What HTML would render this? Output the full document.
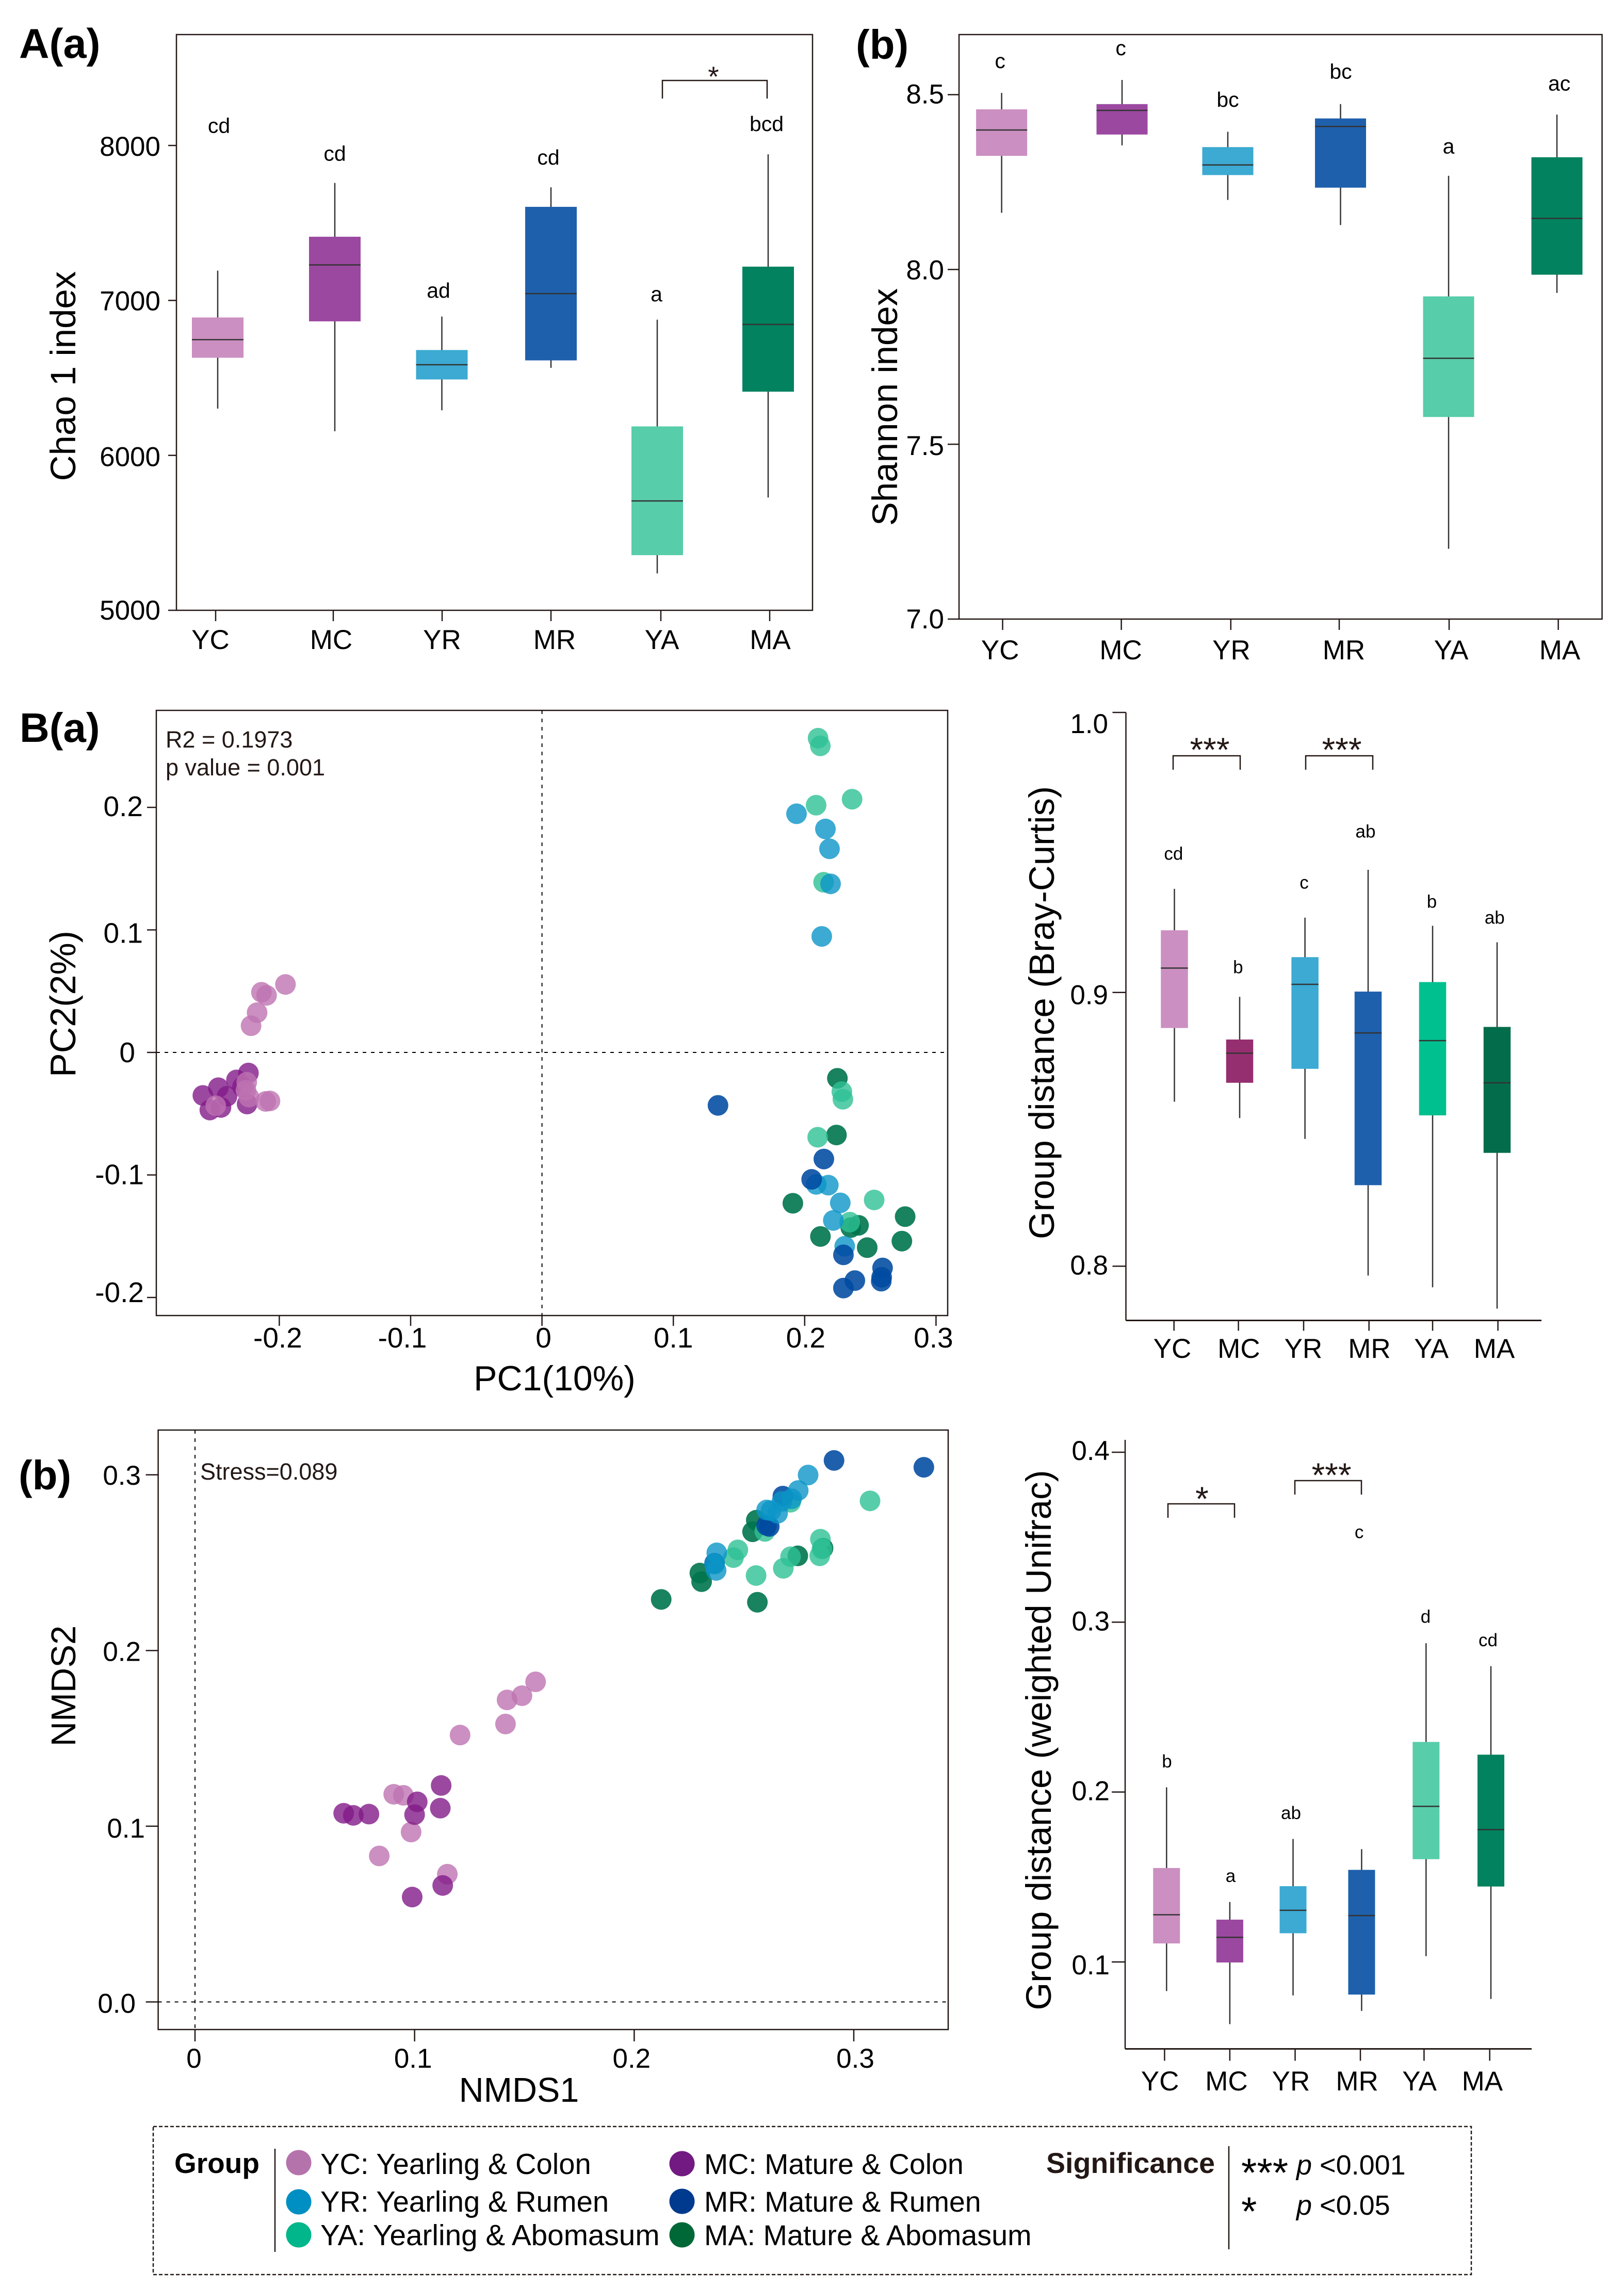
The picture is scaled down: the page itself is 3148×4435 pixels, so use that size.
<!DOCTYPE html>
<html lang="en">
<head>
<meta charset="utf-8">
<title>Microbial diversity figure</title>
<style>
html,body{margin:0;padding:0;background:#fff;}
svg{display:block;font-family:"Liberation Sans",Arial,sans-serif;}
</style>
</head>
<body>
<svg id="figure" xmlns="http://www.w3.org/2000/svg" width="3148" height="4435" viewBox="0 0 3148 4435">
<rect x="0" y="0" width="3148" height="4435" fill="#ffffff"/>

<!-- panel letters -->
<text x="37" y="112" font-size="81" font-weight="bold">A(a)</text>
<text x="1659" y="114" font-size="80" font-weight="bold">(b)</text>
<text x="38" y="1438" font-size="80" font-weight="bold">B(a)</text>
<text x="36" y="2887" font-size="80" font-weight="bold">(b)</text>

<!-- axis titles -->
<text transform="translate(146,729) rotate(-90)" font-size="69" text-anchor="middle">Chao 1 index</text>
<text transform="translate(1739,789) rotate(-90)" font-size="69" text-anchor="middle">Shannon index</text>
<text transform="translate(146,1946) rotate(-90)" font-size="70" text-anchor="middle">PC2(2%)</text>
<text x="1075" y="2695" font-size="68" text-anchor="middle">PC1(10%)</text>
<text transform="translate(2043,1963) rotate(-90)" font-size="69" text-anchor="middle">Group distance (Bray-Curtis)</text>
<text transform="translate(146,3268) rotate(-90)" font-size="67" text-anchor="middle">NMDS2</text>
<text x="1006" y="4074" font-size="66.5" text-anchor="middle">NMDS1</text>
<text transform="translate(2037,3373) rotate(-90)" font-size="69" text-anchor="middle">Group distance (weighted Unifrac)</text>

<!-- annotations -->
<text x="321" y="1449" font-size="45" fill="#231815">R2 = 0.1973</text>
<text x="321" y="1503" font-size="45" fill="#231815">p value = 0.001</text>
<text x="388" y="2868" font-size="45" fill="#231815">Stress=0.089</text>

<!-- significance brackets -->
<g fill="none" stroke="#231815" stroke-width="2.5">
<path d="M1284 191V156H1487V191"/>
<path d="M2274 1492V1465H2404V1492"/>
<path d="M2531 1492V1465H2661V1492"/>
<path d="M2264 2942V2915H2393V2942"/>
<path d="M2510 2897V2870H2639V2897"/>
</g>
<g fill="#231815" text-anchor="middle">
<text x="1383" y="167" font-size="55">*</text>
<text x="2345" y="1476" font-size="66">***</text>
<text x="2601" y="1476" font-size="66">***</text>
<text x="2330" y="2928" font-size="66">*</text>
<text x="2581" y="2882" font-size="66">***</text>
</g>

<!-- legend -->
<g>
<rect x="297" y="4122" width="2555" height="287" fill="none" stroke="#231815" stroke-width="2.5" stroke-dasharray="7 4"/>
<text x="338" y="4212" font-size="55" font-weight="bold">Group</text>
<path d="M533 4165V4365" stroke="#231815" stroke-width="2.5"/>
<circle cx="579" cy="4192" r="24.5" fill="#B573AC"/>
<circle cx="579" cy="4268" r="24.5" fill="#008FC2"/>
<circle cx="579" cy="4332" r="24.5" fill="#00B68A"/>
<circle cx="1322" cy="4194" r="24.5" fill="#721A81"/>
<circle cx="1322" cy="4267" r="24.5" fill="#003A8E"/>
<circle cx="1322" cy="4332" r="24.5" fill="#006837"/>
<text x="621" y="4214" font-size="56.2">YC: Yearling &amp; Colon</text>
<text x="621" y="4287" font-size="56.2">YR: Yearling &amp; Rumen</text>
<text x="621" y="4352" font-size="56.7">YA: Yearling &amp; Abomasum</text>
<text x="1365" y="4214" font-size="55.5">MC: Mature &amp; Colon</text>
<text x="1365" y="4287" font-size="55.5">MR: Mature &amp; Rumen</text>
<text x="1365" y="4352" font-size="55.7">MA: Mature &amp; Abomasum</text>
<text x="2028" y="4212" font-size="55.5" font-weight="bold" fill="#231815">Significance</text>
<path d="M2382 4160V4360" stroke="#231815" stroke-width="2.5"/>
<text x="2406" y="4238" font-size="78">***</text>
<text x="2513" y="4215" font-size="54"><tspan font-style="italic">p</tspan> &lt;0.001</text>
<text x="2406" y="4313" font-size="78">*</text>
<text x="2513" y="4293" font-size="54"><tspan font-style="italic">p</tspan> &lt;0.05</text>
</g>

<g id="charts"></g>
</svg>

<script>
// ---------- shared categories and colours ----------
const categories = ['YC','MC','YR','MR','YA','MA'];

// ---------- Chao 1 ----------
const chaoHigh = [7192,7758,6896,7730,6876,7943];
const chaoQ3 = [6890,7411,6680,7604,6187,7218];
const chaoMedian = [6747,7229,6585,7044,5706,6845];
const chaoQ1 = [6630,6865,6490,6613,5356,6411];
const chaoLow = [6302,6156,6291,6565,5238,5728];
const chaoLetters = ['cd','cd','ad','cd','a','bcd'];
const chaoLetterAt = [8082,7902,7018,7877,6995,8093];
const chaoTicks = [5000,6000,7000,8000];
const chaoTickLabels = ['5000','6000','7000','8000'];

// ---------- Shannon ----------
const shannonHigh = [8.505,8.542,8.394,8.473,8.268,8.443];
const shannonQ3 = [8.458,8.473,8.350,8.432,7.923,8.321];
const shannonMedian = [8.399,8.455,8.299,8.409,7.746,8.146];
const shannonQ1 = [8.325,8.386,8.270,8.234,7.578,7.985];
const shannonLow = [8.162,8.355,8.199,8.127,7.201,7.933];
const shannonLetters = ['c','c','bc','bc','a','ac'];
const shannonLetterAt = [8.576,8.613,8.465,8.546,8.332,8.512];
const shannonTicks = [7.0,7.5,8.0,8.5];
const shannonTickLabels = ['7.0','7.5','8.0','8.5'];

// ---------- Bray-Curtis group distance ----------
const brayHigh = [0.9370,0.8984,0.9267,0.9438,0.9238,0.9179];
const brayQ3 = [0.9222,0.8828,0.9126,0.9003,0.9037,0.8874];
const brayMedian = [0.9087,0.8778,0.9029,0.8852,0.8824,0.8670];
const brayQ1 = [0.8870,0.8670,0.8721,0.8296,0.8551,0.8414];
const brayLow = [0.8601,0.8541,0.8465,0.7966,0.7923,0.7845];
const brayLetters = ['cd','b','c','ab','b','ab'];
const brayLetterAt = [0.9474,0.9069,0.9371,0.9553,0.9303,0.9245];
const brayTicks = [0.8,0.9,1.0];
const brayTickLabels = ['0.8','0.9','1.0'];

// ---------- weighted Unifrac group distance ----------
const unifracHigh = [0.2028,0.1353,0.1724,0.1664,0.2876,0.2741];
const unifracQ3 = [0.1553,0.1249,0.1446,0.1542,0.2295,0.2220];
const unifracMedian = [0.1278,0.1145,0.1304,0.1273,0.1916,0.1779];
const unifracQ1 = [0.1109,0.0997,0.1169,0.0808,0.1605,0.1444];
const unifracLow = [0.0829,0.0634,0.0803,0.0712,0.1034,0.0782];
const unifracLetters = ['b','a','ab','c','d','cd'];
const unifracLetterAt = [0.2145,0.1470,0.1841,0.3494,0.2996,0.2858];
const unifracTicks = [0.1,0.2,0.3,0.4];
const unifracTickLabels = ['0.1','0.2','0.3','0.4'];

// ---------- PCoA scatter ----------
const pcoaYC = [[-0.1953,0.0555],[-0.2136,0.0491],[-0.2097,0.0466],[-0.2169,0.0325],[-0.2215,0.0218],[-0.2248,-0.0243],[-0.2254,-0.0309],[-0.2231,-0.0365],[-0.2104,-0.0400],[-0.2071,-0.0396],[-0.2484,-0.0435]];
const pcoaMC = [[-0.2235,-0.0168],[-0.2326,-0.0224],[-0.2280,-0.0281],[-0.2464,-0.0288],[-0.2582,-0.0351],[-0.2398,-0.0358],[-0.2529,-0.0470],[-0.2444,-0.0449],[-0.2245,-0.0421]];
const pcoaYR = [[0.1938,0.1948],[0.2158,0.1824],[0.2189,0.1662],[0.2197,0.1376],[0.2130,0.0947],[0.2088,-0.1077],[0.2180,-0.1083],[0.2271,-0.1228],[0.2218,-0.1371],[0.2305,-0.1582]];
const pcoaMR = [[0.1340,-0.0432],[0.2146,-0.0870],[0.2053,-0.1036],[0.2295,-0.1652],[0.2593,-0.1759],[0.2586,-0.1835],[0.2583,-0.1867],[0.2382,-0.1862],[0.2295,-0.1923]];
const pcoaYA = [[0.2102,0.2565],[0.2119,0.2502],[0.2087,0.2018],[0.2361,0.2067],[0.2144,0.1389],[0.2283,-0.0320],[0.2291,-0.0382],[0.2099,-0.0692],[0.2529,-0.1204],[0.2343,-0.1385]];
const pcoaMA = [[0.2249,-0.0211],[0.2242,-0.0674],[0.1910,-0.1231],[0.2765,-0.1340],[0.2410,-0.1411],[0.2351,-0.1429],[0.2120,-0.1502],[0.2740,-0.1540],[0.2476,-0.1593]];
const pcoaXTicks = [-0.2,-0.1,0,0.1,0.2,0.3];
const pcoaXTickLabels = ['-0.2','-0.1','0','0.1','0.2','0.3'];
const pcoaYTicks = [-0.2,-0.1,0,0.1,0.2];
const pcoaYTickLabels = ['-0.2','-0.1','0','0.1','0.2'];

// ---------- NMDS scatter ----------
const nmdsYC = [[0.1551,0.1822],[0.1489,0.1743],[0.1421,0.1719],[0.1414,0.1582],[0.1207,0.1519],[0.0905,0.1182],[0.0949,0.1176],[0.0984,0.0967],[0.0839,0.0831],[0.1149,0.0727]];
const nmdsMC = [[0.1121,0.1232],[0.1012,0.1139],[0.1000,0.1066],[0.1117,0.1103],[0.0677,0.1074],[0.0721,0.1062],[0.0792,0.1069],[0.1128,0.0663],[0.0989,0.0597]];
const nmdsYR = [[0.2792,0.2999],[0.2747,0.2911],[0.2717,0.2864],[0.2673,0.2849],[0.2603,0.2800],[0.2623,0.2796],[0.2653,0.2781],[0.2376,0.2556],[0.2366,0.2492],[0.2373,0.2456]];
const nmdsMR = [[0.2910,0.3082],[0.3319,0.3043],[0.2677,0.2879],[0.2603,0.2712],[0.2615,0.2706],[0.2366,0.2497]];
const nmdsYA = [[0.3074,0.2852],[0.2712,0.2844],[0.2595,0.2678],[0.2848,0.2634],[0.2855,0.2578],[0.2845,0.2539],[0.2712,0.2534],[0.2679,0.2468],[0.2472,0.2573],[0.2452,0.2529],[0.2555,0.2427]];
const nmdsMA = [[0.2556,0.2742],[0.2539,0.2676],[0.2860,0.2583],[0.2745,0.2539],[0.2299,0.2441],[0.2307,0.2392],[0.2123,0.2291],[0.2561,0.2275]];
const nmdsXTicks = [0,0.1,0.2,0.3];
const nmdsXTickLabels = ['0','0.1','0.2','0.3'];
const nmdsYTicks = [0,0.1,0.2,0.3];
const nmdsYTickLabels = ['0.0','0.1','0.2','0.3'];

// ---------- drawing helpers ----------
const SVGNS = 'http://www.w3.org/2000/svg';
const root = document.getElementById('charts');
function linear(d0, d1, r0, r1) { return function (v) { return r0 + (v - d0) * (r1 - r0) / (d1 - d0); }; }
function mk(tag, attrs, name, parent) {
  const el = document.createElementNS(SVGNS, tag);
  for (const k in attrs) el.setAttribute(k, attrs[k]);
  
  
  (parent || root).appendChild(el);
  return el;
}
function line(x1, y1, x2, y2, stroke, w, name, parent, dash) {
  const a = { x1: x1, y1: y1, x2: x2, y2: y2, stroke: stroke, 'stroke-width': w };
  if (dash) a['stroke-dasharray'] = dash;
  return mk('line', a, name, parent);
}
function label(x, y, str, size, anchor, name, parent) {
  const t = mk('text', { x: x, y: y, 'font-size': size, 'text-anchor': anchor }, name, parent);
  t.textContent = str;
  return t;
}

const AX = '#231815';
const boxColours = { YC:'#CB8FC1', MC:'#9B48A0', YR:'#3CAAD2', MR:'#1E60AC', YA:'#58CDAA', MA:'#02825F' };
const dotColours = { YC:'#BE73B1', MC:'#821A88', YR:'#0B95C7', MR:'#004AA1', YA:'#2EC095', MA:'#00744D' };
const dotOpacity = { YC:0.8, MC:0.8, YR:0.8, MR:0.88, YA:0.8, MA:0.9 };
const DOT_R = 20;

function boxPanel(p) {
  const g = mk('g', {}, p.id + '-chart');
  // frame or L axes
  if (p.frame) {
    mk('rect', { x: p.frame[0], y: p.frame[1], width: p.frame[2] - p.frame[0], height: p.frame[3] - p.frame[1], fill: 'none', stroke: AX, 'stroke-width': 2.5 }, p.id + '-plot-frame', g);
  } else {
    line(p.axis.x, p.axis.top, p.axis.x, p.axis.bottom, AX, 2.5, p.id + '-y-axis-line', g);
    line(p.axis.x, p.axis.bottom, p.axis.right, p.axis.bottom, AX, 3, p.id + '-x-axis-line', g);
  }
  // y ticks
  p.ticks.forEach(function (t, i) {
    const y = p.y(t);
    line(p.yAxisX - p.tickLen, y, p.yAxisX, y, AX, 2.5, p.id + '-y-tick-' + p.tickLabels[i], g);
    label(p.yLabelRight, y + p.yLabelDy[i], p.tickLabels[i], p.tickFont, 'end', p.id + '-y-tick-label-' + p.tickLabels[i], g);
  });
  // categories
  categories.forEach(function (c, i) {
    const cx = p.boxX[i];
    line(p.tickX[i], p.xAxisY, p.tickX[i], p.xAxisY + p.xTickLen, AX, 2.5, p.id + '-x-tick-' + c, g);
    label(p.labelX[i], p.xLabelY, c, 53, 'middle', p.id + '-x-label-' + c, g);
    line(cx, p.y(p.high[i]), cx, p.y(p.low[i]), '#333333', 2.5, p.id + '-whisker-' + c, g);
    const colour = (p.colours && p.colours[c]) || boxColours[c];
    const top = p.y(p.q3[i]), bot = p.y(p.q1[i]);
    mk('rect', { x: cx - p.boxW / 2, y: top, width: p.boxW, height: bot - top, fill: colour }, p.id + '-box-' + c, g);
    const my = p.y(p.median[i]);
    line(cx - p.boxW / 2, my, cx + p.boxW / 2, my, '#333333', 2.5, p.id + '-median-' + c, g);
    label(p.letterX[i], p.y(p.letterAt[i]), p.letters[i], p.letterFont, 'middle', p.id + '-letter-' + c, g);
  });
}

function scatterPanel(p) {
  const g = mk('g', {}, p.id + '-chart');
  mk('rect', { x: p.frame[0], y: p.frame[1], width: p.frame[2] - p.frame[0], height: p.frame[3] - p.frame[1], fill: 'none', stroke: AX, 'stroke-width': 2.5 }, p.id + '-plot-frame', g);
  line(p.x(0), p.frame[1], p.x(0), p.frame[3], '#000000', 2, p.id + '-zero-line-vertical', g, '7 9');
  line(p.frame[0], p.y(0), p.frame[2], p.y(0), '#000000', 2, p.id + '-zero-line-horizontal', g, '7 9');
  p.xTicks.forEach(function (t, i) {
    const x = p.x(t);
    line(x, p.frame[3], x, p.frame[3] + p.xTickLen, AX, 2.5, p.id + '-x-tick-' + p.xTickLabels[i], g);
    label(x + p.xLabelDx[i], p.xLabelY, p.xTickLabels[i], p.tickFont, 'middle', p.id + '-x-tick-label-' + p.xTickLabels[i], g);
  });
  p.yTicks.forEach(function (t, i) {
    const y = p.y(t);
    line(p.frame[0] - p.yTickLen, y, p.frame[0], y, AX, 2.5, p.id + '-y-tick-' + p.yTickLabels[i], g);
    label(p.yLabelRight[i], y + p.yLabelDy[i], p.yTickLabels[i], p.tickFont, 'end', p.id + '-y-tick-label-' + p.yTickLabels[i], g);
  });
  p.series.forEach(function (s) {
    s.points.forEach(function (pt, i) {
      mk('circle', { cx: p.x(pt[0]), cy: p.y(pt[1]), r: DOT_R, fill: dotColours[s.key], 'fill-opacity': dotOpacity[s.key] }, p.id + '-point-' + s.key + '-' + (i + 1), g);
    });
  });
}

// ---------- panels ----------
boxPanel({
  id: 'chao', frame: [342, 67, 1575, 1183], yAxisX: 342, xAxisY: 1183, tickLen: 16, xTickLen: 21,
  y: linear(5000, 8000, 1183, 282), ticks: chaoTicks, tickLabels: chaoTickLabels,
  yLabelRight: 311, yLabelDy: [18, 21, 19, 20], tickFont: 53, xLabelY: 1258, letterFont: 41,
  boxX: [422, 649, 856.5, 1068, 1274, 1489], boxW: 100,
  tickX: [418, 646, 857, 1068, 1281, 1492], labelX: [408, 642, 857, 1075, 1283, 1493],
  letterX: [424.5, 649, 850, 1063, 1272.5, 1486],
  high: chaoHigh, q3: chaoQ3, median: chaoMedian, q1: chaoQ1, low: chaoLow, letters: chaoLetters, letterAt: chaoLetterAt
});

boxPanel({
  id: 'shannon', frame: [1859, 67, 3105.5, 1200], yAxisX: 1859, xAxisY: 1200, tickLen: 22, xTickLen: 21,
  y: linear(7, 8.5, 1200, 183.5), ticks: shannonTicks, tickLabels: shannonTickLabels,
  yLabelRight: 1830, yLabelDy: [18, 21, 19, 17], tickFont: 53, xLabelY: 1278, letterFont: 41,
  boxX: [1941.6, 2175, 2380, 2598.5, 2808, 3018], boxW: 99,
  tickX: [1943.5, 2173.6, 2385.8, 2596, 2809, 3020.6], labelX: [1938.6, 2172.6, 2387, 2605, 2813, 3023.5],
  letterX: [1938.6, 2172.6, 2380, 2599, 2808, 3022.6],
  high: shannonHigh, q3: shannonQ3, median: shannonMedian, q1: shannonQ1, low: shannonLow, letters: shannonLetters, letterAt: shannonLetterAt
});

const brayLower = linear(0.8, 0.9, 2454.4, 1923.7);
const brayUpper = linear(0.9, 1.0, 1923.7, 1381);
boxPanel({
  id: 'bray', axis: { x: 2182.5, top: 1381, bottom: 2559.5, right: 2988 }, yAxisX: 2182.5, xAxisY: 2559.5, tickLen: 26, xTickLen: 20,
  y: function (v) { return v <= 0.9 ? brayLower(v) : brayUpper(v); }, ticks: brayTicks, tickLabels: brayTickLabels,
  yLabelRight: 2148, yLabelDy: [16, 23, 40], tickFont: 53, xLabelY: 2632, letterFont: 35,
  boxX: [2276.5, 2403, 2529.6, 2652, 2777, 2902], boxW: 52.5,
  tickX: [2275.7, 2400.6, 2527, 2653.7, 2777, 2903.6], labelX: [2272.5, 2401.4, 2526.4, 2654.5, 2774.7, 2896.5],
  letterX: [2274.9, 2399.8, 2528, 2647, 2775.5, 2897.3],
  colours: { MC: '#952F70', YA: '#00C08F', MA: '#036C4B' },
  high: brayHigh, q3: brayQ3, median: brayMedian, q1: brayQ1, low: brayLow, letters: brayLetters, letterAt: brayLetterAt
});

boxPanel({
  id: 'unifrac', axis: { x: 2181, top: 2791, bottom: 3971.5, right: 2969 }, yAxisX: 2181, xAxisY: 3971.5, tickLen: 26, xTickLen: 23,
  y: linear(0.1, 0.4, 3803, 2815), ticks: unifracTicks, tickLabels: unifracTickLabels,
  yLabelRight: 2151, yLabelDy: [24, 16, 16, 15], tickFont: 53, xLabelY: 4052, letterFont: 35,
  boxX: [2261.3, 2383.9, 2506.5, 2639.4, 2764.3, 2890], boxW: 52,
  tickX: [2257.4, 2383.9, 2510.5, 2637, 2760.4, 2887.7], labelX: [2248.6, 2377.5, 2502.5, 2630.6, 2751.6, 2873.4],
  letterX: [2262, 2385.5, 2502.5, 2634.6, 2763.5, 2884.5],
  high: unifracHigh, q3: unifracQ3, median: unifracMedian, q1: unifracQ1, low: unifracLow, letters: unifracLetters, letterAt: unifracLetterAt
});

scatterPanel({
  id: 'pcoa', frame: [303, 1377, 1837, 2550], x: linear(0, 0.3, 1050.6, 1814.4), y: linear(0, 0.2, 2040, 1565),
  xTicks: pcoaXTicks, xTickLabels: pcoaXTickLabels, yTicks: pcoaYTicks, yTickLabels: pcoaYTickLabels,
  xTickLen: 20, yTickLen: 18, xLabelY: 2612, tickFont: 55,
  xLabelDx: [-3, -16, 3, 0, 2, -5], yLabelRight: [279, 279, 262, 277, 277], yLabelDy: [9, 18, 19, 25, 17],
  series: [{ key: 'MC', points: pcoaMC }, { key: 'YC', points: pcoaYC }, { key: 'MA', points: pcoaMA }, { key: 'YA', points: pcoaYA }, { key: 'YR', points: pcoaYR }, { key: 'MR', points: pcoaMR }]
});

scatterPanel({
  id: 'nmds', frame: [306.6, 2772, 1838, 3934], x: linear(0, 0.3, 378, 1655), y: linear(0, 0.3, 3880.5, 2858.8),
  xTicks: nmdsXTicks, xTickLabels: nmdsXTickLabels, yTicks: nmdsYTicks, yTickLabels: nmdsYTickLabels,
  xTickLen: 23, yTickLen: 24, xLabelY: 4008, tickFont: 53,
  xLabelDx: [-2, -3, -5, 3], yLabelRight: [263, 281, 273, 273], yLabelDy: [21, 22, 20, 19],
  series: [{ key: 'YC', points: nmdsYC }, { key: 'MC', points: nmdsMC }, { key: 'MA', points: nmdsMA }, { key: 'YA', points: nmdsYA }, { key: 'MR', points: nmdsMR }, { key: 'YR', points: nmdsYR }]
});
</script>
</body>
</html>
